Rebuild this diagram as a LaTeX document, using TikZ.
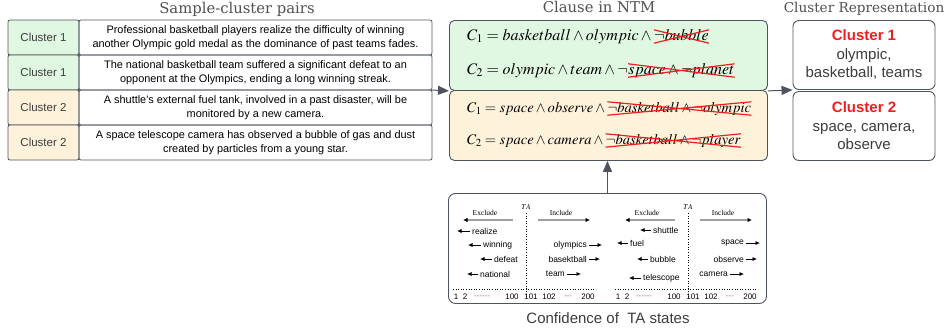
\documentclass[tikz,border=0pt]{standalone}
\usepackage{mathptmx}
\usepackage{fontspec}
\newfontfamily\helv{Liberation Sans}
\newfontfamily\tnr{Liberation Serif}
\newfontfamily\dvs{DejaVu Serif}
\usetikzlibrary{arrows.meta,positioning}
\definecolor{lgreen}{RGB}{224,247,225}
\definecolor{lorange}{RGB}{255,242,219}
\definecolor{edge}{RGB}{78,84,94}
\definecolor{titlegray}{RGB}{80,80,80}
\definecolor{textgray}{RGB}{60,60,60}
\definecolor{xred}{RGB}{240,30,30}

\begin{document}
\begin{tikzpicture}[x=1pt,y=-1pt,
  cell/.style={draw=edge,line width=.8pt,rounded corners=2pt,inner sep=0pt,outer sep=0pt,minimum height=35pt,anchor=north west},
  clu/.style={cell,minimum width=71pt,font=\helv\fontsize{11.5}{13}\selectfont,text=textgray},
  sent/.style={cell,minimum width=353pt,align=center,font=\helv\fontsize{10.9}{13.5}\selectfont},
  title/.style={font=\dvs\fontsize{14.8}{17}\selectfont,text=titlegray,anchor=base},
  box/.style={draw=edge,line width=.9pt,rounded corners=5pt,minimum width=318pt,minimum height=70pt,anchor=north west,inner sep=0pt},
  fml/.style={inner sep=0pt,anchor=base west,text height=10pt,text depth=3pt},
  cross/.style={draw=xred,line width=1.2pt},
  crbox/.style={draw=edge,line width=.9pt,rounded corners=6pt,minimum width=142pt,minimum height=69pt,align=center,font=\helv\fontsize{15}{18.5}\selectfont,text=textgray},
  arr/.style={draw=edge,line width=1pt,-{Triangle[length=11pt,width=9pt]}},
  bigarr/.style={draw=gray!75,line width=1.3pt,-{Latex[length=4.5pt,width=4.5pt,color=black]}},
  sarr/.style={line width=.7pt,-{Latex[length=4.5pt,width=4pt]}},
  word/.style={font=\helv\fontsize{8.5}{9}\selectfont,inner sep=0pt},
  num/.style={font=\helv\fontsize{8}{9}\selectfont,inner sep=0pt},
  exl/.style={font=\tnr\fontsize{7.5}{8}\selectfont,inner sep=0pt}]
\useasboundingbox (0,0) rectangle (949,333);

% titles
\node[title] (t1) at (237,13) {Sample-cluster pairs};
\node[title] (t2) at (599,12) {Clause in NTM};
\node[title,font=\dvs\fontsize{13.6}{16}\selectfont] (t3) at (864,12) {Cluster Representation};

% sample table
\foreach \i/\c/\f in {1/1/lgreen,2/1/lgreen,3/2/lorange,4/2/lorange}
  \node[clu,fill=\f] (k\i) at (8,{20+35*(\i-1)}) {Cluster \c};
\node[sent] (s1) at (79,20) {Professional basketball players realize the difficulty of winning\\another Olympic gold medal as the dominance of past teams fades.};
\node[sent] (s2) at (79,55) {The national basketball team suffered a significant defeat to an\\opponent at the Olympics, ending a long winning streak.};
\node[sent] (s3) at (79,90) {A shuttle's external fuel tank, involved in a past disaster, will be\\monitored by a new camera.};
\node[sent] (s4) at (79,125) {A space telescope camera has observed a bubble of gas and dust\\created by particles from a young star.};

% clauses
\node[box,fill=lgreen] (g) at (449,20) {};
\node[box,fill=lorange] (o) at (449,90) {};
\begin{scope}[font=\fontsize{16}{18}\selectfont]
\node[fml] (g1) at (467,40) {$C_1 = basketball \wedge olympic \wedge {}$};
\node[fml] (g1x) at (g1.base east) {$\neg bubble$};
\node[fml] (g2) at (467,74) {$C_2 = olympic \wedge team \wedge \neg$};
\node[fml] (g2x) at (g2.base east) {$space \wedge \neg planet$};
\end{scope}
\begin{scope}[font=\fontsize{14.6}{17}\selectfont]
\node[fml] (o1) at (467,112) {$C_1 = space \wedge observe \wedge {}$};
\node[fml] (o1x) at (o1.base east) {$\neg basketball \wedge \neg olympic$};
\node[fml] (o2) at (467,144) {$C_2 = space \wedge camera \wedge {}$};
\node[fml] (o2x) at (o2.base east) {$\neg basketball \wedge \neg player$};
\end{scope}
\foreach \n in {g1x,g2x,o1x,o2x}
  \draw[cross] (\n.north west) -- (\n.south east) (\n.south west) -- (\n.north east);

% cluster representation
\node[crbox] (c1) at (864,55) {\textcolor{xred}{\bfseries Cluster 1}\\olympic,\\basketball, teams};
\node[crbox] (c2) at (864,126) {\textcolor{xred}{\bfseries Cluster 2}\\space, camera,\\observe};

% TA states
\node[draw=edge,line width=.9pt,rounded corners=7pt,minimum width=318pt,minimum height=110pt,anchor=north west] (tabox) at (448,193) {};
\foreach \t in {526,688} {
  \node[exl] at (\t,207) {$TA$};
  \draw[dotted,line width=.6pt] (\t,213) -- (\t,298);
  \node[exl] at (\t-41,213) {Exclude};
  \draw[bigarr] (\t-13,220) -- (\t-63,220);
  \node[exl] at (\t+35,213) {Include};
  \draw[bigarr] (\t+12,220) -- (\t+64,220);
  \draw[dotted,line width=.6pt] (\t-73,289) -- (\t+70,289);
  \foreach \d/\s in {-70/1,-61/2,-14/100,5/101,23/102,62/200}
    \node[num] at (\t+\d,297) {\s};
  \node[num,text=gray] at (\t-44,297) {-{}-{}-{}-{}-{}-};
  \node[num,text=gray] at (\t+42,297) {-{}-{}-};
}
\foreach \w/\x/\y/\l in {realize/472/231/13,winning/483/245/13,defeat/494/259/12,national/480/274/11,shuttle/653/230/11,fuel/630/243/11,bubble/650/259/11,telescope/643/278/12} {
  \node[word,anchor=west] (\w) at (\x,\y) {\w};
  \draw[sarr] ([xshift=-2pt]\w.west) -- ++(-\l,0);
}
\foreach \w/\x/\y/\l in {olympics/587/245/13,basektball/587/259/11,team/565/274/14,space/744/243/14,observe/744/259/11,camera/728/274/14} {
  \node[word,anchor=east] (\w) at (\x,\y) {\w};
  \draw[sarr] ([xshift=2pt]\w.east) -- ++(\l,0);
}
\node[font=\helv\fontsize{15}{17}\selectfont,text=textgray,anchor=base] (conf) at (608,323) {Confidence of \ TA states};

% connectors
\draw[arr] (s2.south east) -- (g.south west);
\draw[arr] (g.south east) -- (c1.south west);
\draw[arr] (tabox.north) -- (tabox.north |- o.south);
\end{tikzpicture}
\end{document}
